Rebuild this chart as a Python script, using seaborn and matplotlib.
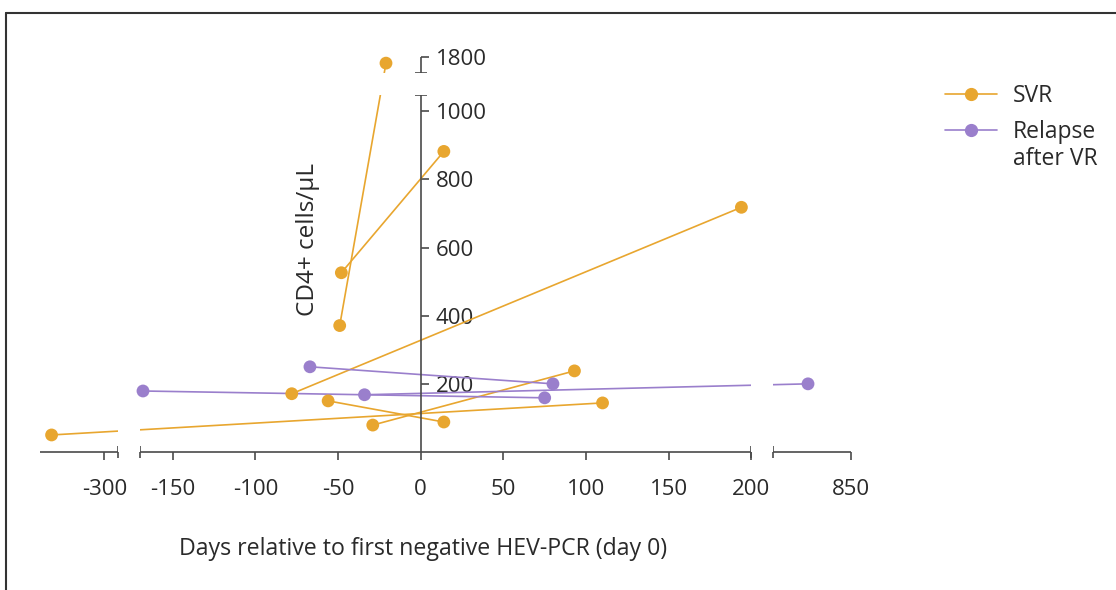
import matplotlib.pyplot as plt
import numpy as np
import pandas as pd
import seaborn as sns
from matplotlib.lines import Line2D

# Paired CD4 counts (start / end of each patient's course)
svr_day0 = [-49, -48, -78, -56, -29, -332]
svr_day1 = [-21, 14, 194, 14, 93, 110]
svr_cd4_0 = [371, 526, 171, 150, 79, 50]
svr_cd4_1 = [1782, 882, 718, 88, 238, 144]

relapse_day0 = [-168, -67, -34]
relapse_day1 = [75, 80, 824]
relapse_cd4_0 = [179, 250, 168]
relapse_cd4_1 = [159, 200, 200]

# broken axes: visible segments
x_segments = [(-339, -292), (-170, 200), (803, 850)]
y_segments = [(0, 1047), (1753, 1800)]
x_gap = 13.3   # gap width in days
y_gap = 65     # gap height in cells/uL

x_ticks = [-300, -150, -100, -50, 0, 50, 100, 150, 200, 850]
x_ticklabels = ['-300', '-150', '-100', '-50', '0', '50', '100', '150', '200', '850']
y_ticks = [200, 400, 600, 800, 1000, 1800]

orange = '#E8A62F'
purple = '#9A7FCC'
axis_col = '#4a4a4a'
text_col = '#2a2a2a'


def broken_scale(segments, gap):
    src, dst = [], []
    pos = 0.0
    for i, (a, b) in enumerate(segments):
        if i:
            pos += gap
        src += [a, b]
        dst += [pos, pos + b - a]
        pos += b - a
    src, dst = np.array(src, float), np.array(dst, float)

    def mapper(p, q):
        def f(v):
            v = np.asarray(v, float)
            out = np.interp(v, p, q)
            out = np.where(v < p[0], q[0] + v - p[0], out)
            out = np.where(v > p[-1], q[-1] + v - p[-1], out)
            return out
        return f
    return mapper(src, dst), mapper(dst, src)


rows = []
for i in range(len(svr_day0)):
    rows.append(('SVR', f's{i}', svr_day0[i], svr_cd4_0[i]))
    rows.append(('SVR', f's{i}', svr_day1[i], svr_cd4_1[i]))
for i in range(len(relapse_day0)):
    rows.append(('Relapse after VR', f'r{i}', relapse_day0[i], relapse_cd4_0[i]))
    rows.append(('Relapse after VR', f'r{i}', relapse_day1[i], relapse_cd4_1[i]))
df = pd.DataFrame(rows, columns=['group', 'pid', 'day', 'cd4'])

sns.set_style('white')
plt.rcParams['font.family'] = ['Open Sans', 'DejaVu Sans']

fig = plt.figure(figsize=(11.16, 5.9), dpi=100)
ax = fig.add_axes([40 / 1116, 138 / 590, 811 / 1116, 395 / 590])

ax.set_xscale('function', functions=broken_scale(x_segments, x_gap))
ax.set_yscale('function', functions=broken_scale(y_segments, y_gap))
ax.set_xlim(x_segments[0][0], x_segments[-1][1])
ax.set_ylim(y_segments[0][0], y_segments[-1][1])

palette = {'SVR': orange, 'Relapse after VR': purple}
sns.lineplot(data=df, x='day', y='cd4', hue='group', units='pid', estimator=None,
             palette=palette, linewidth=1.2, legend=False, ax=ax, zorder=1, sort=False)
sns.scatterplot(data=df, x='day', y='cd4', hue='group', palette=palette, s=85,
                edgecolor='none', legend=False, ax=ax, zorder=4, clip_on=False)

# blank out the gaps
for (a0, a1), (b0, b1) in zip(x_segments[:-1], x_segments[1:]):
    ax.axvspan(a1, b0, color='white', zorder=1.5, lw=0)
for (a0, a1), (b0, b1) in zip(y_segments[:-1], y_segments[1:]):
    ax.axhspan(a1, b0, color='white', zorder=1.5, lw=0)

# axis lines drawn per segment
for a, b in x_segments:
    ax.plot([a, b], [0, 0], color=axis_col, lw=1.2, clip_on=False, zorder=3, solid_capstyle='butt')
for a, b in y_segments:
    ax.plot([0, 0], [a, b], color=axis_col, lw=1.2, clip_on=False, zorder=3, solid_capstyle='butt')

for s in ax.spines.values():
    s.set_visible(False)
ax.spines['right'].set_position(('data', 0))
ax.yaxis.tick_right()

ax.set_xticks(x_ticks)
ax.set_xticklabels(x_ticklabels)
ax.set_yticks(y_ticks)
ax.set_yticklabels([str(v) for v in y_ticks])
x_caps = [x_segments[0][1], x_segments[1][0], x_segments[1][1], x_segments[2][0]]
y_caps = [y_segments[0][1], y_segments[1][0]]
ax.set_xticks(x_caps, minor=True)
ax.set_yticks(y_caps, minor=True)
ax.xaxis.remove_overlapping_locs = False
ax.yaxis.remove_overlapping_locs = False

ax.tick_params(axis='x', which='both', bottom=True, top=False)
ax.tick_params(axis='y', which='both', right=True, left=False)
ax.tick_params(axis='both', which='major', direction='out', length=6, width=1.2,
               color=axis_col, labelsize=16, labelcolor=text_col)
ax.tick_params(axis='x', which='major', pad=13.5)
ax.tick_params(axis='y', which='major', pad=5)
ax.tick_params(axis='both', which='minor', direction='inout', length=9, width=1.2,
               color=axis_col)

ax.set_xlabel('Days relative to first negative HEV-PCR (day 0)', fontsize=16.7, color=text_col)
ax.xaxis.set_label_coords((423 - 40) / 811, (452 - 549) / 395)
ax.xaxis.label.set_va('center')
ax.set_ylabel('CD4+ cells/µL', fontsize=17.5, color=text_col)
ax.yaxis.set_label_position('left')
ax.yaxis.set_label_coords((308 - 40) / 811, (452 - 240) / 395)
ax.yaxis.label.set_va('center')

handles = [Line2D([], [], color=orange, lw=1.2, marker='o', ms=8.5),
           Line2D([], [], color=purple, lw=1.2, marker='o', ms=8.5)]
leg = fig.legend(handles, ['SVR', 'Relapse'], loc='upper left',
                 bbox_to_anchor=(934 / 1116, 1 - 73 / 590), frameon=False, fontsize=16.5,
                 handlelength=2.25, handletextpad=0.7, labelspacing=0.49, borderpad=0,
                 labelcolor=text_col)
# second line of the relapse label, under "Relapse"
fig.canvas.draw()
bb = leg.get_texts()[1].get_window_extent()
fig.text(bb.x0 / fig.bbox.width, (bb.y0 - 27) / fig.bbox.height, 'after VR',
         fontsize=16.5, color=text_col, ha='left', va='bottom')

# outer frame
fig.add_artist(Line2D([6 / 1116, 6 / 1116], [0, 1 - 13 / 590], color='#333333', lw=1.5))
fig.add_artist(Line2D([6 / 1116, 1], [1 - 13 / 590, 1 - 13 / 590], color='#333333', lw=1.5))

fig.savefig('out.png', dpi=100)
